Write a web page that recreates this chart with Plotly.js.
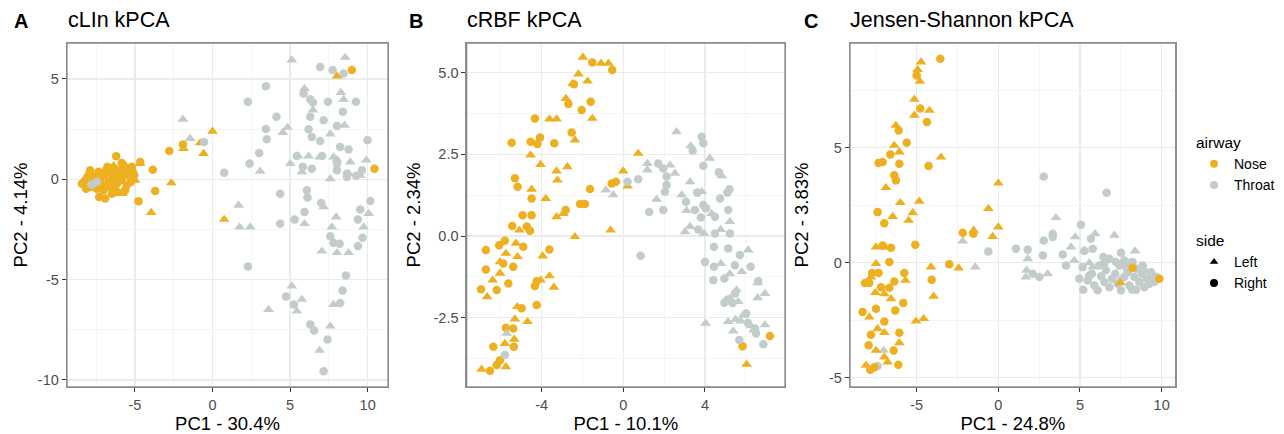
<!DOCTYPE html>
<html>
<head>
<meta charset="utf-8">
<script src="https://cdn.plot.ly/plotly-3.0.1.min.js"></script>
<style>html,body{margin:0;padding:0;background:#fff}#chart{width:1284px;height:434px}</style>
</head>
<body>
<div id="chart"></div>
<script>
// ---------------- DATA ----------------
const airwayNames = ['Nose', 'Throat'];
const sideNames = ['Left', 'Right'];
const panelTitles = ['cLIn kPCA', 'cRBF kPCA', 'Jensen-Shannon kPCA'];
const panelLetters = ['A', 'B', 'C'];
const xTitles = ['PC1 - 30.4%', 'PC1 - 10.1%', 'PC1 - 24.8%'];
const yTitles = ['PC2 - 4.14%', 'PC2 - 2.34%', 'PC2 - 3.83%'];

// Panel A : cLIn kPCA
const A_throatLeft_x = [5.11,8.55,5.93,8.27,8.45,-1.91,-1.44,4.84,4.53,8.51,7.59,6.47,5.01,6.19,5.5,7.8,6.9,8.88,9.91,3.07,5.76,7.59,9.52,8.77,8.02,1.68,1.74,2.43,5.93,7.16,7.97,7.69,10.06,9.74,7.05,8.02,8.77,5.11,5.76,5.44,3.61,7.8,7.59,6.9];
const A_throatLeft_y = [5.94,6.07,4.52,4.32,3.97,2.99,2.03,2.58,2.33,2.69,2.25,3.44,0.78,1.15,1.16,1.11,1.11,0.86,0.95,0.40,0.37,0.02,0.2,0.28,0.98,-1.30,-2.38,-2.38,-2.21,-1.38,-1.88,-2.38,-1.71,-2.38,-3.58,-3.66,-3.66,-5.32,-5.99,-6.57,-6.49,-6.24,-7.32,-8.53];
const A_throatRight_x = [6.94,7.74,8.45,3.44,2.28,4.12,3.44,3.5,3.01,2.39,0.75,-0.54,5.87,6.3,6.47,7.44,9.24,8.4,6.3,7.16,8.02,6.19,6.4,6.94,8.23,8.77,9.99,5.44,7.06,8.02,8.02,6.4,5.82,8.66,9.63,9.26,8.66,4.36,6.08,6.12,7.01,5.93,5.29,4.36,10.17,9.52,9.37,9.67,9.37,7.59,8.19,7.8,2.28,8.6,8.38,4.73,5.24,8.23,6.3,6.55,7.41,7.16,-7.78,-7.46];
const A_throatRight_y = [5.6,5.44,5.27,4.64,3.86,3.11,2.51,2.0,1.31,0.78,0.33,1.86,4.27,3.99,3.83,3.86,3.86,3.36,3.11,2.94,2.66,2.49,2.11,1.91,1.61,1.48,1.95,1.16,1.16,0.78,0.45,0.53,0.62,0.12,0.45,0.17,0.28,-0.72,-0.55,-0.91,-1.18,-1.63,-2.0,-2.21,-1.08,-1.51,-2.0,-2.91,-3.33,-2.84,-3.21,-3.16,-4.34,-4.79,-5.54,-5.84,-6.24,-6.17,-7.23,-7.53,-7.98,-9.56,-0.27,-0.13];
const A_noseLeft_x = [8.02,0.0,-0.8,-1.87,-0.58,-2.66,0.75,-3.95,-5.8,-4.66,-4.99,-5.74,-5.09,-6.38,-5.42,-7.24];
const A_noseLeft_y = [5.14,2.39,1.81,1.53,1.28,-0.18,-2.0,-1.66,-0.72,0.78,-0.05,0.75,0.03,0.67,0.45,0.28];
const A_noseRight_x = [8.98,10.44,-2.79,-1.91,-3.85,-3.7,-4.77,-4.66,-6.21,-6.92,-7.31,-8.42,-8.21,-8.06,-7.93,-7.84,-7.67,-7.57,-7.35,-7.24,-7.14,-6.98,-6.86,-6.77,-6.71,-6.55,-6.43,-6.38,-6.28,-6.17,-6.06,-5.95,-5.85,-5.74,-5.63,-5.52,-5.42,-5.31,-5.20,-5.14,-5.05,-7.03,-7.46,-6.6,-8.15,-7.89,-5.85,-5.27,-5.63,-6.13,-6.49];
const A_noseRight_y = [5.44,0.53,1.41,1.73,0.48,-0.58,-1.1,0.86,1.15,-0.96,-0.88,-0.22,-0.05,0.12,0.28,-0.38,-0.13,0.15,0.37,-0.05,-0.30,0.20,0.45,0.62,-0.13,0.28,0.03,-0.55,0.53,-0.22,0.20,0.45,-0.05,0.70,0.28,-0.30,0.53,0.12,0.62,0.37,0.20,-0.55,-0.47,-0.38,-0.47,0.45,0.81,-0.13,-0.55,-0.63,-0.72];

// Panel B : cRBF kPCA
const B_throatLeft_x = [2.61,3.3,4.24,1.18,1.18,2.29,2.53,4.82,3.27,-0.85,-0.49,2.86,1.63,3.84,3.1,5.22,3.02,3.27,3.95,4.77,4.33,6.12,4.78,5.22,5.8,6.58,6.94,6.58,5.55,5.22,5.63,4.03,5.14,5.39,5.88,6.94,-5.71,6.37,5.5,5.75,6.25];
const B_throatLeft_y = [3.19,2.76,2.38,2.22,2.02,2.17,1.92,1.84,1.66,1.41,1.26,1.26,1.12,1.36,0.78,0.44,0.13,0.29,0.08,0.2,0.69,-0.43,-0.84,-1.16,-1.09,-1.43,-1.76,-1.89,-1.65,-1.91,-2.01,-2.67,-2.62,-2.91,-2.42,-2.72,-2.98,-2.88,-2.55,-2.6,-2.75];
const B_throatRight_x = [3.84,3.92,3.4,3.92,1.71,1.96,2.12,2.12,2.04,0.73,0.21,4.68,5.2,5.1,4.74,3.62,3.07,3.51,3.92,4.05,1.96,1.27,3.8,4.49,5.14,5.22,4.49,3.67,0.85,4.44,5.14,4.0,4.44,5.47,6.24,5.71,4.41,4.95,6.61,4.95,5.47,6.02,6.1,6.45,5.68,6.86,6.5,-5.8,5.1,5.35];
const B_throatRight_y = [3.04,2.84,2.61,2.15,2.22,2.07,1.82,1.56,1.36,1.74,1.66,1.95,1.43,1.33,1.15,1.33,1.05,0.80,0.95,0.85,0.80,0.74,0.57,0.59,0.80,0.08,0.08,0.2,-0.60,-0.33,-0.38,-0.79,-0.94,-0.89,-0.94,-0.58,-1.35,-1.3,-1.38,-2.04,-1.76,-2.37,-2.65,-2.83,-3.18,-3.31,-2.98,-3.64,-1.95,-2.05];
const B_noseLeft_x = [-1.98,-1.09,-0.73,-2.2,-1.75,-2.48,-2.81,-3.62,-3.27,-1.52,-2.37,-4.54,-4.05,-2.74,-3.27,-3.23,-4.49,-3.80,-3.27,-2.94,-2.37,-0.62,0.0,0.21,0.73,-5.09,-5.26,-5.18,-3.95,-3.62,-3.4,-4.05,-6.04,-5.75,-6.4,-6.67,-6.04,-5.19,-5.31,-4.69,-5.34,-5.8,-5.75,-6.94,6.04];
const B_noseLeft_y = [5.47,5.29,5.29,4.96,4.74,4.67,4.21,3.58,3.58,3.60,2.94,2.48,2.19,2.12,1.99,1.71,1.43,1.15,0.59,0.69,-0.02,0.18,1.99,1.53,2.53,0.18,-0.22,-0.63,-0.61,-1.22,-1.57,-1.35,-0.79,-0.53,-1.35,-1.86,-1.14,-2.16,-2.54,-2.62,-3.16,-3.29,-4.0,-4.08,-3.93];
const B_noseRight_x = [-1.52,-0.54,-2.42,-2.69,-1.6,-2.04,-4.33,-5.47,-4.54,-4.08,-4.21,-3.38,-2.53,-5.31,-5.18,-1.63,-4.49,-4.49,-4.93,-4.73,-4.57,-5.44,-2.82,-2.12,-1.88,-0.57,-0.36,-6.73,-6.08,-5.8,-4.9,-3.62,-5.88,-5.39,-6.73,-5.63,-6.2,-6.97,-4.33,-4.24,-4.24,-4.98,-5.75,-5.39,-6.37,-5.36,-6.04,-6.2,-6.53,5.84,7.18];
const B_noseRight_y = [5.31,5.08,4.65,4.04,4.11,3.86,3.60,2.86,2.89,3.02,2.82,2.84,3.17,1.77,1.51,1.44,1.15,0.64,0.64,0.29,0.16,0.31,0.80,0.98,0.98,1.61,1.66,-0.43,-0.28,-0.14,-0.33,-0.41,-0.84,-0.94,-1.02,-1.45,-1.65,-1.63,-1.53,-1.38,-2.11,-2.21,-2.81,-2.83,-3.39,-3.39,-3.8,-3.95,-4.12,-3.37,-3.06];

// Panel C : Jensen-Shannon kPCA
const C_throatLeft_x = [-2.18,-1.41,3.53,1.8,1.73,3.02,4.45,4.71,5.92,7.1,8.37,5.57,4.65,5.27,1.69,-7.02,9.04,8.02,5.78,7.41,9.24];
const C_throatLeft_y = [0.94,-0.19,1.96,0.17,-0.33,-0.48,0.68,1.12,1.26,1.19,0.51,-0.01,0.1,0.54,-0.62,-3.81,-0.36,-0.01,-0.19,-0.77,-0.62];
const C_throatRight_x = [2.78,6.63,-0.61,1.08,1.8,2.78,3.33,3.33,5.06,5.67,2.73,3.94,4.14,5.27,5.78,7.51,2.1,2.51,6.43,6.8,4.96,5.2,5.47,5.73,5.88,6.08,6.29,6.49,6.59,6.8,6.96,7.16,7.31,7.41,7.51,7.71,7.92,8.02,8.18,8.33,8.47,8.63,8.8,8.94,9.08,9.24,9.41,9.55,9.65,5.16,6.18,7.2,7.71,8.22,8.84,9.35,7.82,6.49,5.57,8.43,-7.39];
const C_throatRight_y = [3.75,3.04,0.49,0.61,0.57,0.97,1.26,1.12,1.65,1.04,0.32,0.36,-0.12,0.51,0.61,0.43,-0.48,-0.62,0.25,0.17,-0.70,-1.17,-0.77,-0.48,-0.99,-1.20,-0.59,-0.84,-0.33,-1.06,-0.70,-0.48,-0.91,-0.12,-1.20,-0.62,-0.41,-0.99,-1.16,-0.62,-0.26,-0.84,-0.48,-1.06,-0.70,-0.91,-0.55,-0.84,-0.62,-0.19,-0.12,0.03,0.10,0.03,-0.12,-0.41,-0.19,-0.04,-0.55,-1.17,-4.49];
const C_noseLeft_x = [-4.73,-4.94,-4.8,-5.14,-4.22,-5.14,-6.27,-6.37,-6.06,-3.51,-6.88,-6.0,-4.84,-5.24,-5.49,-6.47,-0.61,0.0,0.0,-0.35,-1.51,-4.12,-2.43,-3.96,-5.04,-4.57,-7.49,-6.92,-7.49,-7.8,-7.53,-6.98,-6.57,-5.69,-7.9,-7.39,-6.98,-6.06,-7.49,-6.78,-6.98,-8.1,7.47];
const C_noseLeft_y = [8.72,8.39,7.88,7.10,6.62,6.41,5.97,5.10,4.81,4.59,3.26,2.61,2.67,2.17,1.84,2.01,2.35,3.46,1.55,1.14,1.41,-0.19,-0.23,-1.46,-2.54,-2.43,0.68,0.68,-0.04,-0.62,-1.30,-1.35,-1.57,-0.77,-2.36,-2.87,-3.04,-3.48,-3.81,-4.32,-4.10,-4.46,-0.87];
const C_noseRight_x = [-3.55,-5.0,-4.78,-4.37,-6.1,-5.61,-6.61,-7.08,-7.33,-6.06,-4.27,-6.37,-6.27,-7.39,-6.98,-5.08,-7.08,-6.57,-6.67,-7.33,-7.73,-8.16,-7.9,-7.18,-6.37,-5.76,-6.67,-5.82,-6.31,-7.49,-8.31,-6.98,-6.06,-7.8,-7.94,-6.41,-6.12,-7.84,-7.59,-3.0,-4.08,-2.18,-1.53,8.22,9.86];
const C_noseRight_y = [8.87,8.14,6.70,6.12,5.75,5.22,4.70,4.38,4.33,4.30,4.20,3.80,3.58,2.20,1.72,0.78,0.75,0.65,0.03,-0.45,-0.45,-0.88,-0.88,-1.06,-0.81,-0.45,-1.09,-1.75,-2.07,-2.0,-2.14,-2.55,-3.04,-3.13,-3.59,-3.81,-4.43,-4.65,-4.54,-0.07,-0.74,1.30,1.26,-0.23,-0.70];

// Axis ranges and ticks
const A_xRange = [-9.38, 11.31], A_yRange = [-10.35, 6.79];
const B_xRange = [-7.67, 7.92],  B_yRange = [-4.62, 5.91];
const C_xRange = [-9.08, 10.86], C_yRange = [-5.40, 9.55];
const A_xTicks = [-5, 0, 5, 10], A_xLabels = ['-5', '0', '5', '10'];
const A_yTicks = [-10, -5, 0, 5], A_yLabels = ['-10', '-5', '0', '5'];
const B_xTicks = [-4, 0, 4], B_xLabels = ['-4', '0', '4'];
const B_yTicks = [-2.5, 0, 2.5, 5], B_yLabels = ['-2.5', '0.0', '2.5', '5.0'];
const C_xTicks = [-5, 0, 5, 10], C_xLabels = ['-5', '0', '5', '10'];
const C_yTicks = [-5, 0, 5], C_yLabels = ['-5', '0', '5'];

// ---------------- STYLE ----------------
const NOSE = '#EDB021';
const THROAT = '#C2CCCB';
const FRAME = '#8C8C8C';
const FONT = 'Liberation Sans, Arial, Helvetica, sans-serif';

function pts(x, y, color, symbol, xa, ya) {
  return {
    type: 'scatter', mode: 'markers', x: x, y: y, xaxis: xa, yaxis: ya,
    showlegend: false, hoverinfo: 'x+y',
    marker: { color: color, symbol: symbol, size: symbol === 'circle' ? 8.5 : 9.5, line: { width: 0 } }
  };
}

const traces = [
  // Panel A (nose under throat)
  pts(A_noseLeft_x, A_noseLeft_y, NOSE, 'triangle-up', 'x', 'y'),
  pts(A_noseRight_x, A_noseRight_y, NOSE, 'circle', 'x', 'y'),
  pts(A_throatLeft_x, A_throatLeft_y, THROAT, 'triangle-up', 'x', 'y'),
  pts(A_throatRight_x, A_throatRight_y, THROAT, 'circle', 'x', 'y'),
  // Panel B
  pts(B_noseLeft_x, B_noseLeft_y, NOSE, 'triangle-up', 'x2', 'y2'),
  pts(B_noseRight_x, B_noseRight_y, NOSE, 'circle', 'x2', 'y2'),
  pts(B_throatLeft_x, B_throatLeft_y, THROAT, 'triangle-up', 'x2', 'y2'),
  pts(B_throatRight_x, B_throatRight_y, THROAT, 'circle', 'x2', 'y2'),
  // Panel C
  pts(C_throatLeft_x, C_throatLeft_y, THROAT, 'triangle-up', 'x3', 'y3'),
  pts(C_throatRight_x, C_throatRight_y, THROAT, 'circle', 'x3', 'y3'),
  pts(C_noseLeft_x, C_noseLeft_y, NOSE, 'triangle-up', 'x3', 'y3'),
  pts(C_noseRight_x, C_noseRight_y, NOSE, 'circle', 'x3', 'y3'),
  // legend keys
  { type: 'scatter', mode: 'markers', x: [null], y: [null], name: airwayNames[0], legend: 'legend',
    marker: { color: NOSE, symbol: 'circle', size: 8 } },
  { type: 'scatter', mode: 'markers', x: [null], y: [null], name: airwayNames[1], legend: 'legend',
    marker: { color: THROAT, symbol: 'circle', size: 8 } },
  { type: 'scatter', mode: 'markers', x: [null], y: [null], name: sideNames[0], legend: 'legend2',
    marker: { color: '#000', symbol: 'triangle-up', size: 7.5 } },
  { type: 'scatter', mode: 'markers', x: [null], y: [null], name: sideNames[1], legend: 'legend2',
    marker: { color: '#000', symbol: 'circle', size: 8 } }
];

const W = 1284, H = 434;
const yDom = [1 - 387 / H, 1 - 43 / H];

function xax(dom, range, tv, tt, title, minorStep) {
  return {
    domain: dom, range: range, tickmode: 'array', tickvals: tv, ticktext: tt,
    showline: true, mirror: true, linecolor: FRAME, linewidth: 1.3,
    ticks: 'outside', ticklen: 4, tickwidth: 1, tickcolor: '#333',
    tickfont: { family: FONT, size: 14.5, color: '#4D4D4D' },
    showgrid: true, gridcolor: '#EBEBEB', gridwidth: 1.3, zeroline: false,
    minor: { dtick: minorStep, tick0: 0, showgrid: true, gridcolor: '#F3F3F3', gridwidth: 0.8, ticks: '' },
    title: { text: title, font: { family: FONT, size: 18.5, color: '#000' }, standoff: 4 },
    fixedrange: true, automargin: false
  };
}
function yax(dom, range, tv, tt, title, minorStep, anchor, standoff) {
  const a = xax(dom, range, tv, tt, title, minorStep);
  a.anchor = anchor;
  a.title.standoff = standoff;
  return a;
}

const domA = [67 / W, 388 / W], domB = [466.7 / W, 785 / W], domC = [850 / W, 1175.7 / W];

function frame(xr, yr) {
  return { type: 'rect', xref: xr + ' domain', yref: yr + ' domain', x0: 0, x1: 1, y0: 0, y1: 1,
           line: { color: FRAME, width: 1.3 }, fillcolor: 'rgba(0,0,0,0)', layer: 'above' };
}

const layout = {
  width: W, height: H,
  margin: { l: 0, r: 0, t: 0, b: 0 },
  paper_bgcolor: '#fff', plot_bgcolor: '#fff',
  font: { family: FONT, color: '#000' },
  xaxis: Object.assign(xax(domA, A_xRange, A_xTicks, A_xLabels, xTitles[0], 2.5), { anchor: 'y' }),
  yaxis: Object.assign(yax(yDom, A_yRange, A_yTicks, A_yLabels, yTitles[0], 2.5, 'x', 5), { domain: yDom }),
  xaxis2: Object.assign(xax(domB, B_xRange, B_xTicks, B_xLabels, xTitles[1], 2), { anchor: 'y2' }),
  yaxis2: Object.assign(yax(yDom, B_yRange, B_yTicks, B_yLabels, yTitles[1], 1.25, 'x2', 8), { domain: yDom }),
  xaxis3: Object.assign(xax(domC, C_xRange, C_xTicks, C_xLabels, xTitles[2], 2.5), { anchor: 'y3' }),
  yaxis3: Object.assign(yax(yDom, C_yRange, C_yTicks, C_yLabels, yTitles[2], 2.5, 'x3', 15), { domain: yDom }),
  shapes: [frame('x', 'y'), frame('x2', 'y2'), frame('x3', 'y3')],
  showlegend: true,
  legend: {
    x: 1194 / W, xanchor: 'left', y: 1 - 128 / H, yanchor: 'top',
    title: { text: 'airway', font: { family: FONT, size: 15.5, color: '#000' } },
    font: { family: FONT, size: 14, color: '#000' }, bgcolor: 'rgba(0,0,0,0)',
    tracegroupgap: 0, itemwidth: 30
  },
  legend2: {
    x: 1194 / W, xanchor: 'left', y: 1 - 226 / H, yanchor: 'top',
    title: { text: 'side', font: { family: FONT, size: 15.5, color: '#000' } },
    font: { family: FONT, size: 14, color: '#000' }, bgcolor: 'rgba(0,0,0,0)',
    tracegroupgap: 0, itemwidth: 30
  },
  annotations: [
    { text: '<b>' + panelLetters[0] + '</b>', x: 12 / W, y: 1 - 21 / H, xref: 'paper', yref: 'paper', xanchor: 'left', yanchor: 'middle', showarrow: false, font: { family: FONT, size: 20, color: '#000' } },
    { text: panelTitles[0], x: 66 / W, y: 1 - 20 / H, xref: 'paper', yref: 'paper', xanchor: 'left', yanchor: 'middle', showarrow: false, font: { family: FONT, size: 21.5, color: '#000' } },
    { text: '<b>' + panelLetters[1] + '</b>', x: 407 / W, y: 1 - 21 / H, xref: 'paper', yref: 'paper', xanchor: 'left', yanchor: 'middle', showarrow: false, font: { family: FONT, size: 20, color: '#000' } },
    { text: panelTitles[1], x: 465 / W, y: 1 - 20 / H, xref: 'paper', yref: 'paper', xanchor: 'left', yanchor: 'middle', showarrow: false, font: { family: FONT, size: 21.5, color: '#000' } },
    { text: '<b>' + panelLetters[2] + '</b>', x: 802 / W, y: 1 - 21 / H, xref: 'paper', yref: 'paper', xanchor: 'left', yanchor: 'middle', showarrow: false, font: { family: FONT, size: 20, color: '#000' } },
    { text: panelTitles[2], x: 848 / W, y: 1 - 20 / H, xref: 'paper', yref: 'paper', xanchor: 'left', yanchor: 'middle', showarrow: false, font: { family: FONT, size: 21.5, color: '#000' } }
  ]
};

Plotly.newPlot('chart', traces, layout, { staticPlot: true, displayModeBar: false });
</script>
</body>
</html>
